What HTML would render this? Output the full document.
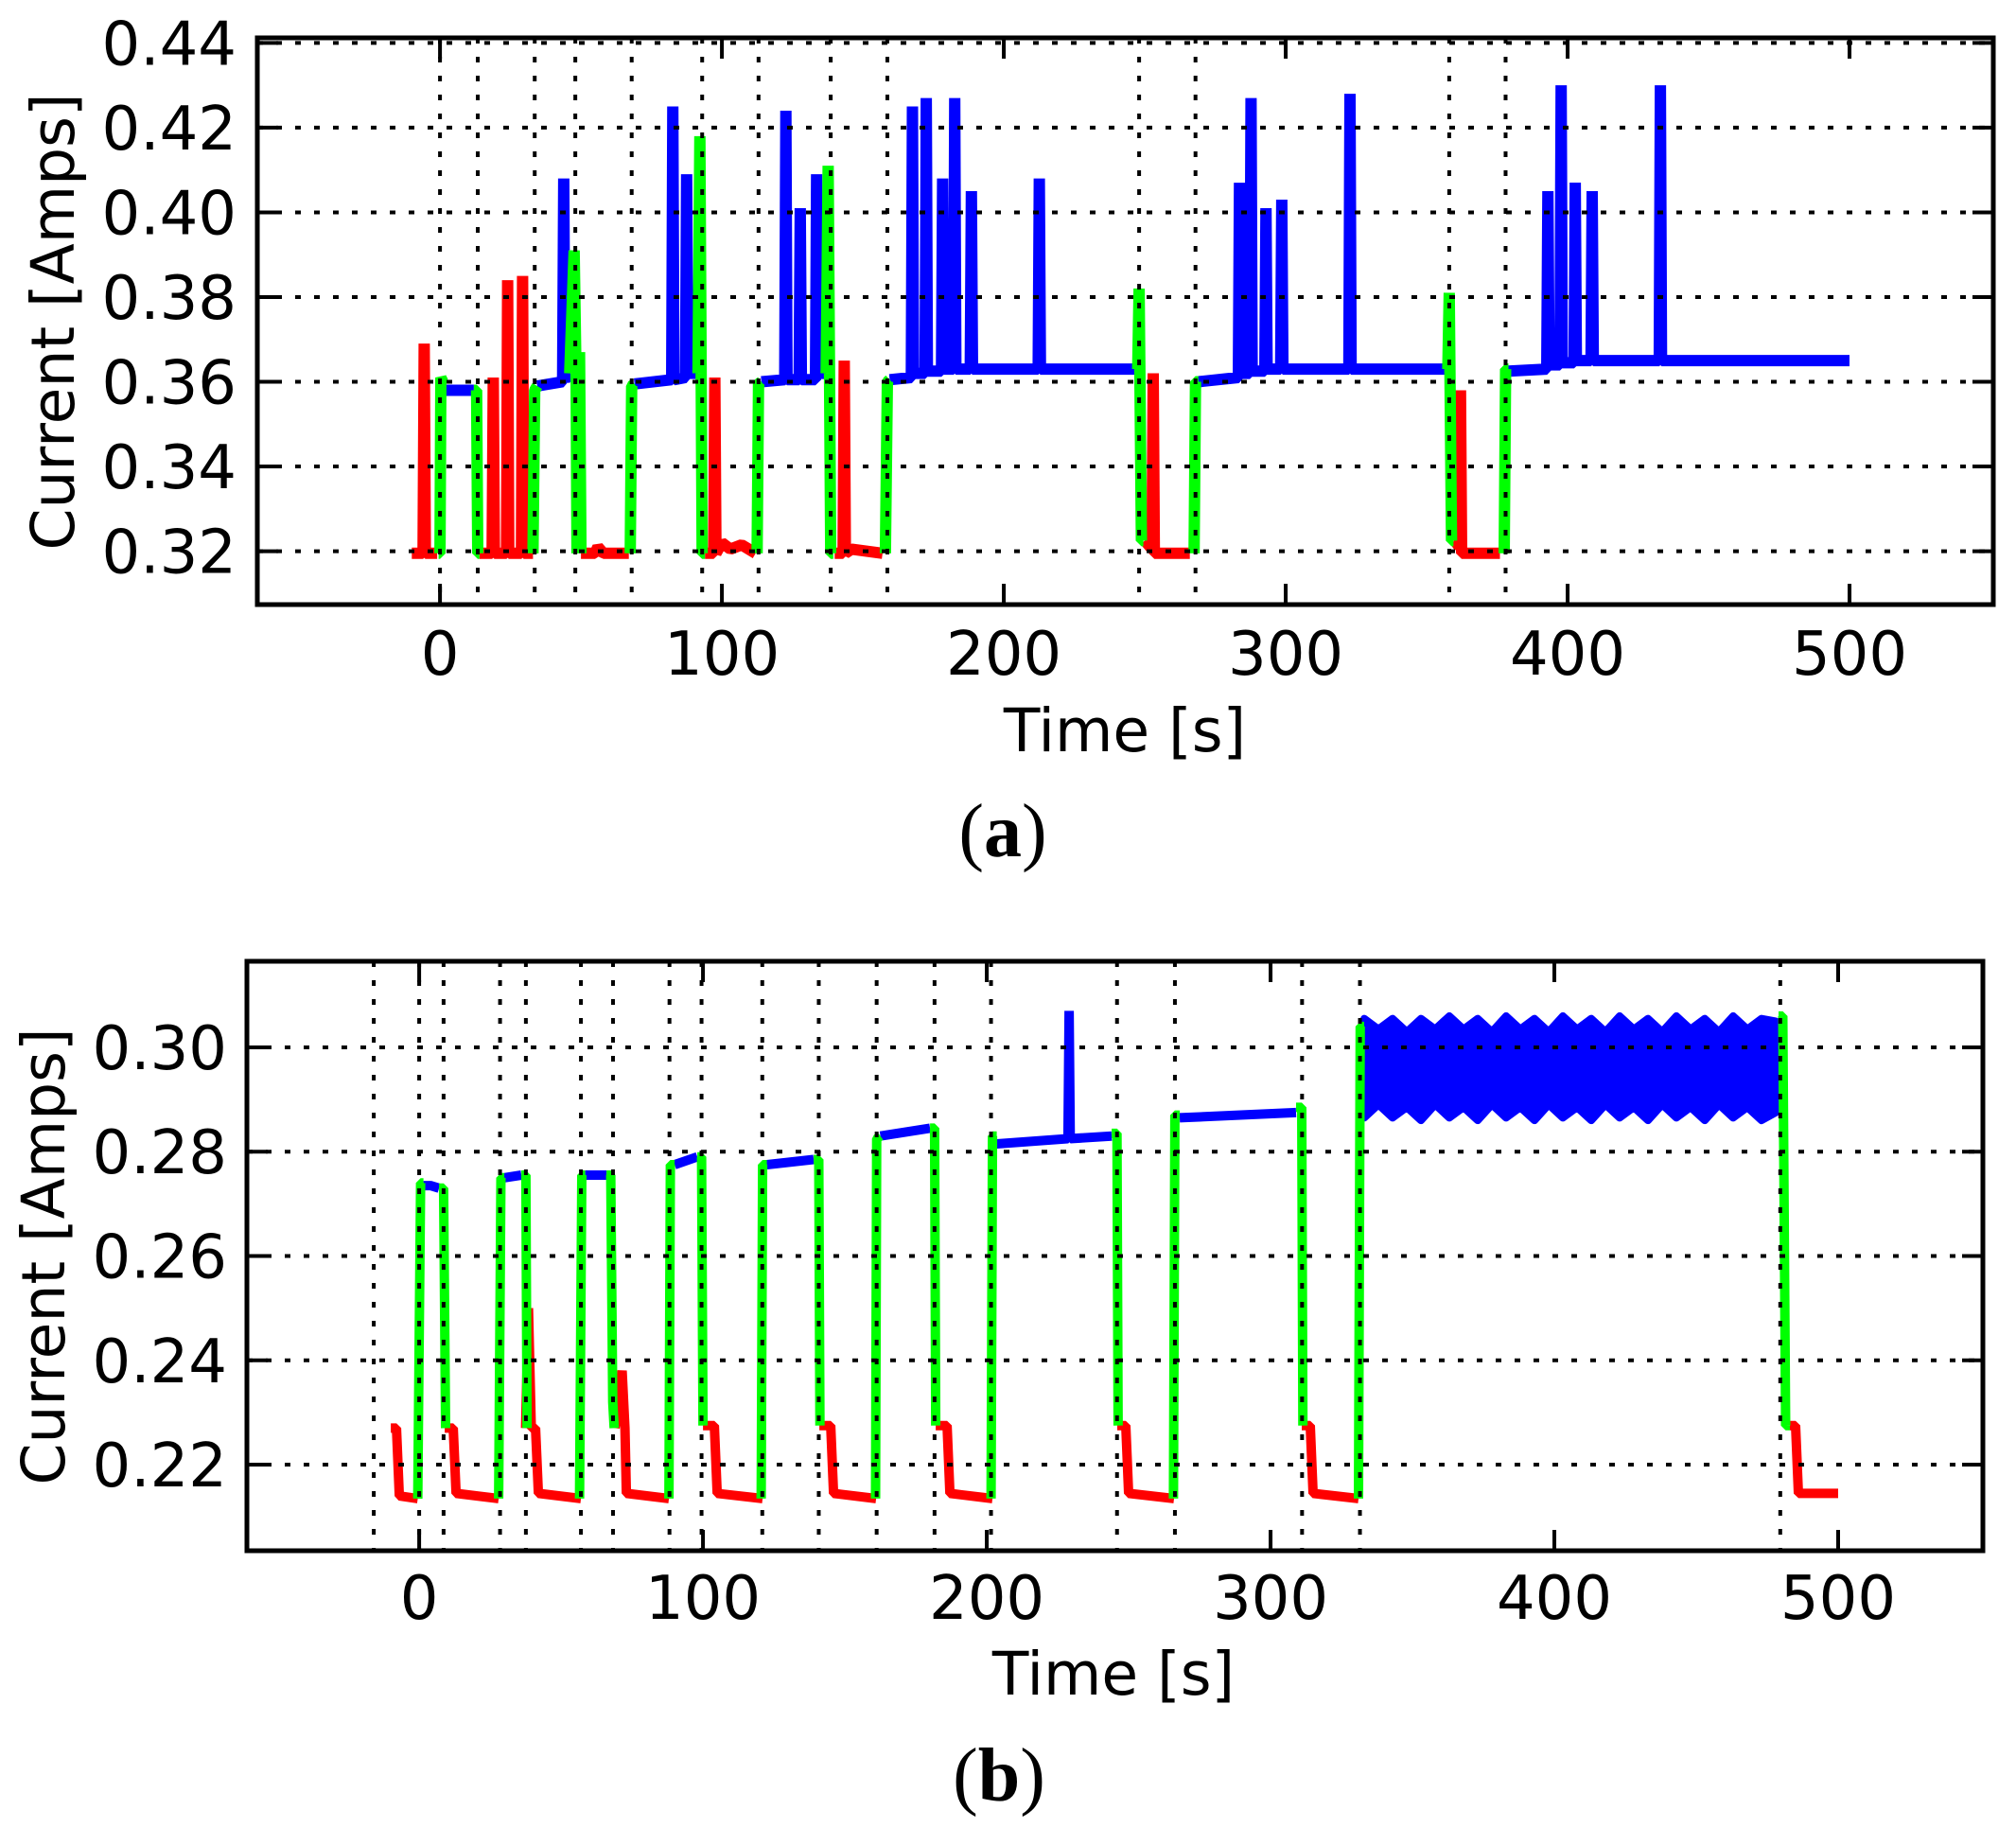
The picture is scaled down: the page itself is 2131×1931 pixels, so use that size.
<!DOCTYPE html>
<html><head><meta charset="utf-8"><style>
html,body{margin:0;padding:0;background:#fff}
svg{display:block}
text{font-family:"DejaVu Sans","Liberation Sans",sans-serif;fill:#000}
</style></head><body>
<svg id="fig" width="2131" height="1931" viewBox="0 0 2131 1931" xmlns="http://www.w3.org/2000/svg"></svg>
<script>
// ---------- Panel (a) data ----------
const aRedT=[-10,-6,-5.6,-5.2,-1,null,14,18.5,18.9,19.3,23.6,24,24.4,28.9,29.3,29.7,33,null,50,55,56,58,67,null,94,97.1,97.5,97.9,100,103,107,112,null,140,143,143.4,143.8,146,157,null,250,252.6,253,253.4,266,null,360,361.6,362,362.4,376];
const aRedV=[.3195,.3195,.369,.3195,.3195,null,.3195,.3195,.361,.3195,.3195,.384,.3195,.3195,.385,.3195,.3195,null,.3195,.3195,.321,.3195,.3195,null,.3195,.3195,.361,.3195,.322,.3205,.3215,.3195,null,.3195,.3195,.365,.3195,.3205,.3195,null,.3225,.3205,.362,.3195,.3195,null,.3225,.321,.358,.3195,.3195];
const aGreenT=[-0.5,0,0.3,1,null,12,13,13.4,14,null,33,33.6,34.5,null,46,47.6,48.3,48.6,49.5,50,null,67.5,68,69,null,91.5,92.2,93,94,null,112.5,113,114,null,137,137.7,138.6,139.5,null,158,158.7,159.5,null,247.5,248,248.8,249.5,null,267.5,268,269,null,357.5,358,358.8,359.5,null,377.5,378,379];
const aGreenV=[.3195,.3195,.361,.36,null,.358,.358,.3195,.3195,null,.3195,.358,.359,null,.362,.391,.36,.3195,.367,.3195,null,.3195,.359,.3595,null,.362,.418,.3195,.3195,null,.3195,.3595,.36,null,.362,.411,.3195,.3195,null,.3195,.36,.3605,null,.363,.382,.3225,.3225,null,.3195,.36,.36,null,.363,.381,.3225,.3225,null,.3195,.363,.363];
const aBlueT=[1,12,null,34.5,43.5,43.9,44.3,46,null,69,82.2,82.6,83,87.1,87.5,87.9,91.5,null,114,122.3,122.7,123.1,127.4,127.8,128.2,133.2,133.6,134,137,null,159.5,167.2,167.6,168,172.1,172.5,172.9,177.9,178.3,178.7,182.2,182.6,183,188.1,188.5,188.9,212.2,212.6,213,247.5,null,269,283.2,283.6,284,287.3,287.7,288.1,292.6,293,293.4,298.2,298.6,299,322.4,322.8,323.2,357.5,null,379,392.6,393,393.4,397.3,397.7,398.1,402.3,402.7,403.1,408.3,408.7,409.1,432.5,432.9,433.3,500];
const aBlueV=[.358,.358,null,.359,.36,.408,.3605,.362,null,.3595,.3605,.425,.3605,.361,.409,.362,.362,null,.36,.3605,.424,.3605,.3605,.401,.3605,.3605,.409,.362,.362,null,.3605,.361,.425,.362,.362,.427,.3625,.3625,.408,.363,.363,.427,.363,.363,.405,.363,.363,.408,.363,.363,null,.36,.361,.407,.362,.362,.427,.3625,.3625,.401,.363,.363,.403,.363,.363,.428,.363,.363,null,.3625,.363,.405,.364,.364,.430,.3645,.3645,.407,.365,.365,.405,.365,.365,.430,.365,.365];
const aVGrid=[0,13.4,33.6,48,68,93,113,138.6,158.7,248,268,358,378];
const aYTicks=[0.32,0.34,0.36,0.38,0.40,0.42,0.44];
const aYLabels=["0.32","0.34","0.36","0.38","0.40","0.42","0.44"];
const xTicks=[0,100,200,300,400,500];
const xLabels=["0","100","200","300","400","500"];
// ---------- Panel (b) data ----------
const bRedT=[-10,-8,-7,-0.5,null,9,12,13,28,null,37.5,38.5,39.5,41,42,57,null,69,71.5,72.5,73,88,null,100,104,105,121,null,141,145,146,161,null,182,186,187,202,null,246,249,250,266,null,311,314,315,331,null,483,485,486,500];
const bRedV=[.227,.227,.214,.2135,null,.227,.227,.2145,.2135,null,.227,.25,.227,.227,.2145,.2135,null,.227,.238,.227,.2145,.2135,null,.2275,.2275,.2145,.2135,null,.2275,.2275,.2145,.2135,null,.2275,.2275,.2145,.2135,null,.2275,.2275,.2145,.2135,null,.2275,.2275,.2145,.2135,null,.2275,.2275,.2145,.2145];
const bGreenT=[-0.5,0.5,1.5,null,7,8.6,9.3,null,28,28.8,30,null,36,37.6,38,null,56.5,57.3,58.5,null,66,67.5,68.2,68.7,null,88,88.5,90,null,98,99.5,100,null,120.5,121,122.5,null,139,140.8,141.2,null,160.8,161.2,162.5,null,180,181.6,182,null,201.5,202,203.5,null,244,245.9,246.3,null,265.8,266.3,268,null,309,311,311.4,null,331,331.6,333,null,479,480.5,481.5,483];
const bGreenV=[.2135,.274,.274,null,.273,.273,.227,null,.2135,.275,.275,null,.2755,.2755,.227,null,.2135,.2755,.2755,null,.2755,.2755,.232,.227,null,.2135,.2775,.2775,null,.279,.279,.2275,null,.2135,.2775,.2775,null,.2785,.2785,.2275,null,.2135,.2825,.283,null,.2845,.2845,.2275,null,.2135,.283,.283,null,.2835,.2835,.2275,null,.2135,.287,.287,null,.2885,.2885,.2275,null,.2135,.304,.304,null,.306,.306,.2275,.2275];
const bBlueT=[1.5,4,7,null,30,36,null,58.5,66,null,90,98,null,122.5,139,null,162.5,180,null,203.5,228.6,229,229.4,244,null,268,309];
const bBlueV=[.2735,.2735,.273,null,.275,.2755,null,.2755,.2755,null,.2775,.279,null,.2775,.2785,null,.283,.2845,null,.2815,.2825,.307,.2825,.283,null,.2865,.2875];
const bBandT=[333,338,343,348,353,358,363,368,373,378,383,388,393,398,403,408,413,418,423,428,433,438,443,448,453,458,463,468,473,478];
const bBandHi=[.3055,.3035,.3055,.303,.3055,.3035,.306,.3035,.3055,.303,.306,.3035,.3055,.303,.306,.3035,.3055,.303,.306,.3035,.3055,.303,.306,.3035,.3055,.303,.306,.3035,.3055,.305];
const bBandLo=[.2865,.289,.2865,.2885,.286,.289,.2865,.2885,.286,.289,.2865,.2885,.286,.289,.2865,.2885,.286,.289,.2865,.2885,.286,.289,.2865,.2885,.286,.289,.2865,.2885,.286,.2875];
const bVGrid=[-16,0,8.6,28.5,37.6,57,68.3,88.2,99.5,120.9,140.8,161.2,181.6,201.5,245.9,266.3,311.1,331.5,479.6];
const bYTicks=[0.22,0.24,0.26,0.28,0.30];
const bYLabels=["0.22","0.24","0.26","0.28","0.30"];

const NS="http://www.w3.org/2000/svg";
const svg=document.getElementById('fig');
function mk(tag,attrs,parent){const e=document.createElementNS(NS,tag);for(const k in attrs)e.setAttribute(k,attrs[k]);(parent||svg).appendChild(e);return e;}

function panel(cfg){
  const g=mk('g',{});
  
  
  const X=t=>cfg.L+(t-cfg.x0)/(cfg.x1-cfg.x0)*(cfg.R-cfg.L);
  const Y=v=>cfg.B-(v-cfg.y0)/(cfg.y1-cfg.y0)*(cfg.B-cfg.T);
  function pathFrom(ts,vs){let d='',pen=false;for(let i=0;i<ts.length;i++){if(ts[i]===null){pen=false;continue;}d+=(pen?'L':'M')+X(ts[i]).toFixed(1)+' '+Y(vs[i]).toFixed(1);pen=true;}return d;}
  if(cfg.band){
    let d='';
    for(let i=0;i<cfg.band.t.length;i++)d+=(i?'L':'M')+X(cfg.band.t[i])+' '+Y(cfg.band.hi[i]);
    for(let i=cfg.band.t.length-1;i>=0;i--)d+='L'+X(cfg.band.t[i])+' '+Y(cfg.band.lo[i]);
    d+='Z';
    const b=mk('path',{d:d,fill:'#0000ff',stroke:'#0000ff','stroke-width':8,'stroke-linejoin':'round'},g);
    
    
  }
  const series=[['blue',cfg.blue,'#0000ff'],['red',cfg.red,'#ff0000'],['green',cfg.green,'#00ff00']];
  for(const [nm,s,col] of series){
    const p=mk('path',{d:pathFrom(s[0],s[1]),fill:'none',stroke:col,'stroke-width':cfg.lw,'stroke-linejoin':'bevel','stroke-linecap':'butt'},g);
    
    
  }
  const grid=mk('g',{stroke:'#000','stroke-width':4,'stroke-dasharray':'6 14',fill:'none'},g);
  
  
  for(const v of cfg.yt){mk('line',{x1:cfg.L,x2:cfg.R,y1:Y(v),y2:Y(v)},grid);}
  for(const t of cfg.vg){mk('line',{x1:X(t),x2:X(t),y1:cfg.T,y2:cfg.B},grid);}
  const tk=mk('g',{stroke:'#000','stroke-width':4},g);
  for(const v of cfg.yt){mk('line',{x1:cfg.L,x2:cfg.L+22,y1:Y(v),y2:Y(v)},tk);mk('line',{x1:cfg.R,x2:cfg.R-22,y1:Y(v),y2:Y(v)},tk);}
  for(const t of xTicks){mk('line',{x1:X(t),x2:X(t),y1:cfg.B,y2:cfg.B-22},tk);mk('line',{x1:X(t),x2:X(t),y1:cfg.T,y2:cfg.T+22},tk);}
  const fr=mk('rect',{x:cfg.L,y:cfg.T,width:cfg.R-cfg.L,height:cfg.B-cfg.T,fill:'none',stroke:'#000','stroke-width':5},g);
  
  
  cfg.yt.forEach((v,i)=>{const t=mk('text',{x:cfg.ylx,y:Y(v)+23,'text-anchor':'end','font-size':64},g);t.textContent=cfg.yl[i];
    
    });
  xTicks.forEach((v,i)=>{const t=mk('text',{x:X(v),y:cfg.xly,'text-anchor':'middle','font-size':64},g);t.textContent=xLabels[i];
    
    });
  const xt=mk('text',{x:cfg.xtx,y:cfg.xty,'text-anchor':'middle','font-size':63},g);xt.textContent='Time [s]';
  
  
  const yt=mk('text',{x:0,y:0,'text-anchor':'middle','font-size':63,transform:`translate(${cfg.ytx},${cfg.yty}) rotate(-90)`},g);yt.textContent='Current [Amps]';
  
  
  const cap=mk('text',{x:cfg.capx,y:cfg.capy,'text-anchor':'middle','font-size':80,style:'font-family:"Liberation Serif",serif'},g);
  cap.innerHTML='(<tspan font-weight="bold">'+cfg.cap+'</tspan>)';
  
  
}

panel({name:'panel-a',L:272,R:2107,T:40,B:639,x0:-64.8,x1:551,y0:0.3074,y1:0.4412,lw:12,
  red:[aRedT,aRedV],green:[aGreenT,aGreenV],blue:[aBlueT,aBlueV],yt:aYTicks,yl:aYLabels,vg:aVGrid,
  ylx:250,xly:713,xtx:1189,xty:794,ytx:78,yty:340,capx:1060,capy:905,cap:'a'});
panel({name:'panel-b',L:261,R:2096,T:1016,B:1639,x0:-60.7,x1:551,y0:0.2035,y1:0.3165,lw:10,
  red:[bRedT,bRedV],green:[bGreenT,bGreenV],blue:[bBlueT,bBlueV],band:{t:bBandT,hi:bBandHi,lo:bBandLo},yt:bYTicks,yl:bYLabels,vg:bVGrid,
  ylx:240,xly:1711,xtx:1177,xty:1791,ytx:68,yty:1328,capx:1056,capy:1903,cap:'b'});
</script>
</body></html>
